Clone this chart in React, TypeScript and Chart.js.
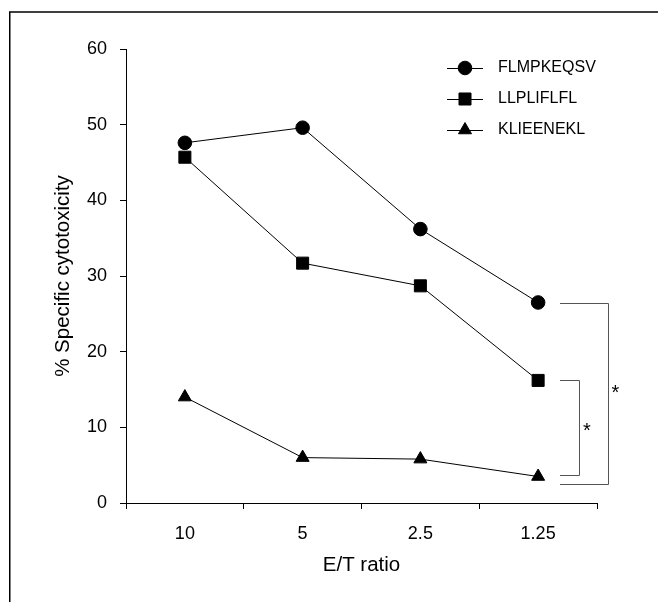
import React, { useEffect, useRef } from "react";
import { Chart, registerables } from "chart.js";

Chart.register(...registerables);

const categories = ["10", "5", "2.5", "1.25"];
const seriesNames = ["FLMPKEQSV", "LLPLIFLFL", "KLIEENEKL"];
const flmpkeqsv = [47.6, 49.6, 36.2, 26.5];
const llplifLfl = [45.7, 31.7, 28.7, 16.2];
const klieenekl = [14.0, 6.0, 5.8, 3.5];
const yTicks = { min: 0, max: 60, step: 10 };
const sigOuter = [26.4, 2.5];
const sigInner = [16.3, 3.7];
const xTitle = "E/T ratio";
const yTitle = "% Specific cytotoxicity";

const FONT = "'Liberation Sans', Arial, sans-serif";

const styles = ["circle", "rect", "triangle"] as const;
const radii = [6.8, 8.5, 7.5];

function drawMarker(ctx: CanvasRenderingContext2D, style: string, x: number, y: number, r: number) {
  ctx.beginPath();
  if (style === "circle") {
    ctx.arc(x, y, r, 0, Math.PI * 2);
  } else if (style === "rect") {
    const s = Math.SQRT1_2 * r;
    ctx.rect(x - s, y - s, 2 * s, 2 * s);
  } else {
    let rad = 0;
    ctx.moveTo(x + Math.sin(rad) * r, y - Math.cos(rad) * r);
    rad += (2 * Math.PI) / 3;
    ctx.lineTo(x + Math.sin(rad) * r, y - Math.cos(rad) * r);
    rad += (2 * Math.PI) / 3;
    ctx.lineTo(x + Math.sin(rad) * r, y - Math.cos(rad) * r);
    ctx.closePath();
  }
  ctx.fillStyle = "#000";
  ctx.strokeStyle = "#000";
  ctx.lineWidth = 1;
  ctx.fill();
  ctx.stroke();
}

const decorPlugin = {
  id: "decor",
  beforeDraw(chart: any) {
    const ctx = chart.ctx as CanvasRenderingContext2D;
    ctx.save();
    ctx.fillStyle = "#fff";
    ctx.fillRect(0, 0, chart.width, chart.height);
    ctx.strokeStyle = "#000";
    ctx.lineWidth = 1.5;
    ctx.beginPath();
    ctx.moveTo(9.75, chart.height + 2);
    ctx.lineTo(9.75, 12);
    ctx.lineTo(chart.width + 2, 12);
    ctx.stroke();
    ctx.restore();
  },
  afterDraw(chart: any) {
    const ctx = chart.ctx as CanvasRenderingContext2D;
    const xs = chart.scales.x;
    const ys = chart.scales.y;
    const area = chart.chartArea;
    ctx.save();
    // legend
    const lx0 = area.right - 150;
    const lx1 = area.right - 114;
    const mx = area.right - 132;
    const tx = area.right - 99;
    const rows = [area.top + 19, area.top + 50, area.top + 81];
    ctx.font = `16px ${FONT}`;
    ctx.textBaseline = "middle";
    ctx.textAlign = "left";
    seriesNames.forEach((name, i) => {
      const y = rows[i];
      ctx.strokeStyle = "#000";
      ctx.lineWidth = 1;
      ctx.beginPath();
      ctx.moveTo(lx0, y + 0.5);
      ctx.lineTo(lx1, y + 0.5);
      ctx.stroke();
      drawMarker(ctx, styles[i], mx, y, radii[i]);
      ctx.fillStyle = "#000";
      ctx.fillText(name, tx, y);
    });
    // significance brackets
    const xl = xs.getPixelForValue(3);
    const x0 = Math.round(xl + 22);
    const drawBracket = (vals: number[], xr: number) => {
      const yt = Math.round(ys.getPixelForValue(vals[0])) + 0.5;
      const yb = Math.round(ys.getPixelForValue(vals[1])) + 0.5;
      ctx.strokeStyle = "#555";
      ctx.lineWidth = 1;
      ctx.beginPath();
      ctx.moveTo(x0, yt);
      ctx.lineTo(xr + 0.5, yt);
      ctx.lineTo(xr + 0.5, yb);
      ctx.lineTo(x0, yb);
      ctx.stroke();
      return (yt + yb) / 2;
    };
    const xrOuter = Math.round(xl + 70);
    const xrInner = Math.round(xl + 41);
    const yOm = drawBracket(sigOuter, xrOuter);
    const yIm = drawBracket(sigInner, xrInner);
    ctx.fillStyle = "#000";
    ctx.font = `20px ${FONT}`;
    ctx.textAlign = "center";
    ctx.textBaseline = "middle";
    ctx.fillText("*", xrOuter + 7.5, yOm - 1);
    ctx.fillText("*", xrInner + 8, yIm + 3.5);
    ctx.restore();
  },
};

export default function App() {
  const ref = useRef<HTMLCanvasElement | null>(null);
  useEffect(() => {
    if (!ref.current) return;
    const series = [flmpkeqsv, llplifLfl, klieenekl];
    const chart = new Chart(ref.current, {
      type: "line",
      data: {
        labels: categories,
        datasets: series.map((d, i) => ({
          label: seriesNames[i],
          data: d,
          borderColor: "#000",
          backgroundColor: "#000",
          borderWidth: 1,
          pointStyle: styles[i],
          pointRadius: radii[i],
          pointBorderWidth: 1,
          pointBorderColor: "#000",
          pointBackgroundColor: "#000",
          tension: 0,
          fill: false,
        })),
      },
      options: {
        animation: false,
        responsive: false,
        maintainAspectRatio: false,
        devicePixelRatio: 1,
        layout: { padding: { left: 0, top: 49, right: 61, bottom: 0 } },
        plugins: {
          legend: { display: false },
          tooltip: { enabled: false },
        },
        scales: {
          x: {
            type: "category",
            offset: true,
            afterFit: (s: any) => {
              s.height = 99;
            },
            grid: {
              display: true,
              offset: true,
              drawOnChartArea: false,
              drawTicks: true,
              tickLength: 6,
              color: "#000",
              lineWidth: 1,
            },
            border: { display: true, color: "#000", width: 1 },
            ticks: {
              color: "#000",
              font: { family: FONT, size: 18 },
              padding: 14,
              maxRotation: 0,
            },
            title: {
              display: true,
              text: xTitle,
              color: "#000",
              font: { family: FONT, size: 20.5 },
              padding: { top: 0, bottom: 24 },
            },
          },
          y: {
            min: yTicks.min,
            max: yTicks.max,
            afterFit: (s: any) => {
              s.width = 126;
            },
            grid: {
              display: true,
              drawOnChartArea: false,
              drawTicks: true,
              tickLength: 6,
              color: "#000",
              lineWidth: 1,
            },
            border: { display: true, color: "#000", width: 1 },
            ticks: {
              stepSize: yTicks.step,
              color: "#000",
              font: { family: FONT, size: 18 },
              padding: 13,
            },
            title: {
              display: true,
              text: yTitle,
              color: "#000",
              font: { family: FONT, size: 20.5 },
              padding: { top: 51, bottom: 0 },
            },
          },
        },
      },
      plugins: [decorPlugin],
    } as any);
    return () => chart.destroy();
  }, []);
  return (
    <div style={{ position: "absolute", left: 0, top: 0, width: 658, height: 602, background: "#fff" }}>
      <canvas ref={ref} width={658} height={602} style={{ width: 658, height: 602, display: "block" }} />
    </div>
  );
}
